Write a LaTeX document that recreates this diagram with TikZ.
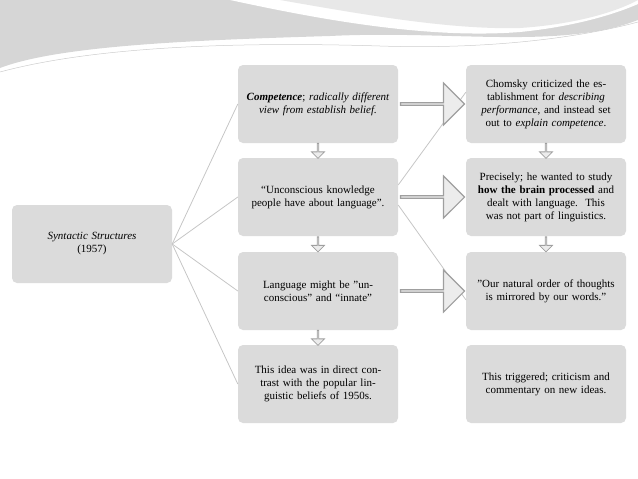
\documentclass[tikz,border=0pt]{standalone}
\usepackage{fontspec}
\setmainfont{Liberation Serif}
\usetikzlibrary{shapes.arrows,calc}
\begin{document}
\begin{tikzpicture}[x=1pt,y=-1pt,
 box/.style={fill=gray!28,rounded corners=5pt,minimum width=160pt,minimum height=78pt,text width=150pt,align=center,font=\fontsize{11}{13}\selectfont,inner sep=2pt},
 bigarrow/.style={single arrow,draw=gray!75,fill=gray!15,line width=1.2pt,minimum height=64pt,minimum width=42pt,single arrow head extend=10pt,single arrow tip angle=90,inner sep=0pt},
 downarrow/.style={single arrow,draw=gray!75,fill=gray!15,line width=0.8pt,minimum height=15pt,minimum width=13pt,single arrow head extend=3pt,shape border rotate=270,inner sep=0pt},
 link/.style={draw=gray!45,line width=0.8pt}]
\useasboundingbox (0,0) rectangle (638,479);
% top swoosh
\fill[gray!32] (0,0) -- (638,0) -- (638,20) .. controls (560,50) and (450,30) .. (330,36) .. controls (200,40) and (60,45) .. (0,68) -- cycle;
\fill[white] (230,0) .. controls (300,15) and (420,40) .. (520,32) .. controls (580,26) and (620,12) .. (638,4) -- (638,0) -- cycle;
\fill[gray!18] (280,0) .. controls (360,14) and (450,30) .. (520,28) .. controls (580,24) and (620,10) .. (638,0) -- cycle;
\draw[gray!40,line width=0.5pt] (0,72) .. controls (100,45) and (250,42) .. (380,46) .. controls (500,50) and (590,35) .. (638,22);
% boxes
\node[box] (ss) at (92,244) {\textit{Syntactic Structures}\\(1957)};
\node[box] (m1) at (318,104) {\textbf{\textit{Competence}}; \textit{radically different view from establish belief.}};
\node[box] (m2) at (318,197) {“Unconscious knowledge people have about language”.};
\node[box] (m3) at (318,291) {Language might be "unconscious" and “innate”};
\node[box] (m4) at (318,384) {This idea was in direct contrast with the popular linguistic beliefs of 1950s.};
\node[box] (r1) at (546,104) {Chomsky criticized the establishment for \textit{describing performance}, and instead set out to \textit{explain competence}.};
\node[box] (r2) at (546,197) {Precisely; he wanted to study \textbf{how the brain processed} and dealt with language.\ \ This was not part of linguistics.};
\node[box] (r3) at (546,291) {"Our natural order of thoughts is mirrored by our words."};
\node[box] (r4) at (546,384) {This triggered; criticism and commentary on new ideas.};
% tree links
\foreach \m in {m1,m2,m3,m4} \draw[link] (ss.east) -- (\m.west);
\coordinate (c1) at (466,92);
\coordinate (c2) at (466,300);
\draw[link] ($(m2.east)+(0,-12)$) -- (c1);
\draw[link] ($(m2.east)+(0,8)$) -- (c2);
% big arrows
\foreach \a/\b in {m1/r1,m2/r2,m3/r3}
  \node[bigarrow] (a\a) at ($(\a.east)!0.5!(\b.west)$) {};
% down arrows
\foreach \a/\b in {m1/m2,m2/m3,m3/m4,r1/r2,r2/r3}
  \node[downarrow] (d\a) at ($(\a.south)!0.5!(\b.north)$) {};
\end{tikzpicture}
\end{document}
